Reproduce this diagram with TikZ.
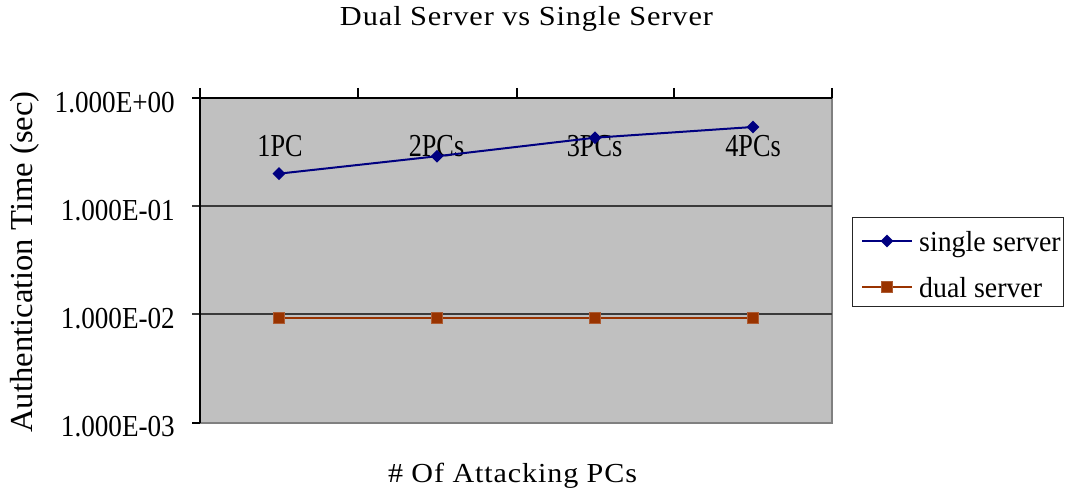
\documentclass[tikz,border=0pt]{standalone}
\usepackage{fontspec}
\setmainfont{Liberation Serif}
\newfontfamily\spacedserif[LetterSpace=3]{Liberation Serif}
\usepackage{graphicx}
\usetikzlibrary{shapes.geometric}

\definecolor{plotgray}{HTML}{C0C0C0}
\definecolor{gridgray}{HTML}{3A3A3A}
\definecolor{framegray}{HTML}{808080}
\definecolor{singleblue}{HTML}{000080}
\definecolor{dualbrown}{HTML}{993300}

% horizontal stretch of a piece of text
\newcommand{\hsquash}[2]{\scalebox{#1}[1]{#2}}
% log10 value -> vertical position of the plot
\newcommand{\ly}[1]{98-108.33*log10(#1)}

\tikzset{
  wideserif/.style={font=\spacedserif\fontsize{27.5}{32}\selectfont, inner sep=0pt, anchor=base},
  ticklabel/.style={font=\fontsize{30.5}{36}\selectfont, inner sep=0pt, anchor=base east},
  pointlabel/.style={font=\fontsize{32}{38}\selectfont, inner sep=0pt, anchor=base},
  legendtext/.style={font=\fontsize{29}{34}\selectfont, inner sep=0pt, anchor=base west},
  gridline/.style={draw=gridgray, line width=1.3pt},
  axisline/.style={draw=black, line width=1.5pt},
  tickmark/.style={draw=black, line width=1.2pt},
  singleline/.style={draw=singleblue, line width=2pt},
  dualline/.style={draw=dualbrown, line width=2pt},
  singlemark/.style={diamond, fill=singleblue, inner sep=0pt, minimum width=13pt, minimum height=13pt},
  dualmark/.style={rectangle, fill=dualbrown, draw=dualbrown!80!white, line width=0.6pt, inner sep=0pt, minimum size=10.5pt},
}

\begin{document}
\begin{tikzpicture}[x=1pt, y=-1pt]
  \useasboundingbox (0,0) rectangle (1069,495);

  % plot area and frame
  \fill[plotgray] (200,98) rectangle (832,423);
  \draw[draw=framegray, line width=2.2pt] (832,98) -- (832,423) -- (200,423);

  % horizontal grid lines at the decades
  \draw[gridline] (192,206) -- (832,206);
  \draw[gridline] (192,314) -- (832,314);
  \draw[tickmark] (192,423) -- (200,423);

  % axes and tick marks
  \draw[axisline] (200,423) -- (200,98);
  \draw[axisline] (192,98) -- (832,98);
  \foreach \tx in {200,358,517,674,832}
    \draw[tickmark] (\tx,88) -- (\tx,98);

  % title and axis titles
  \node[wideserif] (title) at (526.5,26) {\resizebox{373pt}{\height}{Dual Server vs Single Server}};
  \node[wideserif] (xtitle) at (512.5,482) {\resizebox{249pt}{\height}{\# Of Attacking PCs}};
  \node[font=\fontsize{32}{38}\selectfont, inner sep=0pt, anchor=base, rotate=90] (ytitle) at (32,262)
    {\hsquash{1.02}{Authentication Time (sec)}};

  % value axis labels
  \node[ticklabel] (l0) at (175,112) {\hsquash{0.89}{1.000E+00}};
  \node[ticklabel] (l1) at (175,220) {\hsquash{0.89}{1.000E-01}};
  \node[ticklabel] (l2) at (175,328) {\hsquash{0.89}{1.000E-02}};
  \node[ticklabel] (l3) at (175,436) {\hsquash{0.89}{1.000E-03}};

  % data labels of the single server series
  \node[pointlabel] (p1) at (280,157) {\hsquash{0.82}{1PC}};
  \node[pointlabel] (p2) at (436.5,157) {\hsquash{0.82}{2PCs}};
  \node[pointlabel] (p3) at (594.5,157) {\hsquash{0.82}{3PCs}};
  \node[pointlabel] (p4) at (753,157) {\hsquash{0.82}{4PCs}};

  % series positions
  \coordinate (s1) at (279,{\ly{0.2}});
  \coordinate (s2) at (437,{\ly{0.29}});
  \coordinate (s3) at (595,{\ly{0.43}});
  \coordinate (s4) at (753,{\ly{0.54}});
  \coordinate (d1) at (279,{\ly{0.0093}});
  \coordinate (d2) at (437,{\ly{0.0093}});
  \coordinate (d3) at (595,{\ly{0.0093}});
  \coordinate (d4) at (753,{\ly{0.0093}});

  % series lines
  \draw[singleline] (s1) -- (s2) -- (s3) -- (s4);
  \draw[dualline] (d1) -- (d2) -- (d3) -- (d4);

  % series markers
  \foreach \m in {s1,s2,s3,s4} \node[singlemark] (m\m) at (\m) {};
  \foreach \m in {d1,d2,d3,d4} \node[dualmark] (m\m) at (\m) {};

  % legend
  \node[draw=black!85, line width=1pt, minimum width=211pt, minimum height=89pt, inner sep=0pt]
    (legend) at (957.5,261.5) {};
  \coordinate (ka) at (862,241);
  \coordinate (kb) at (912,241);
  \coordinate (kc) at (862,287);
  \coordinate (kd) at (912,287);
  \draw[singleline] (ka) -- (kb);
  \draw[dualline] (kc) -- (kd);
  \node[singlemark] (ks) at (887,241) {};
  \node[dualmark] (kdm) at (887,287) {};
  \node[legendtext] (ts) at (919,251.5) {\hsquash{0.96}{single server}};
  \node[legendtext] (td) at (919,297.5) {\hsquash{0.96}{dual server}};
\end{tikzpicture}
\end{document}
